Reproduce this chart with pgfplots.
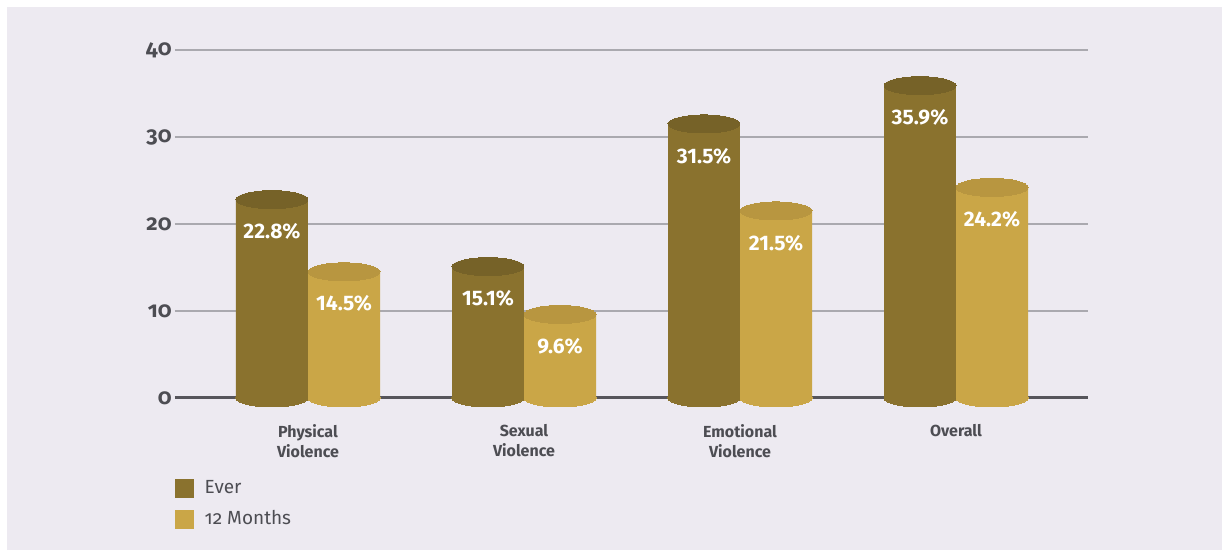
\documentclass[border=0pt]{standalone}
\usepackage{pgfplots}
\usepackage{pgfplotstable}
\pgfplotsset{compat=1.18}
\usepackage{fontspec}
\setmainfont{Fira Sans}[Numbers=OldStyle]
\newfontfamily\lining{Fira Sans}[Numbers=Lining]
\definecolor{bg}{RGB}{237,234,241}
\definecolor{ever}{RGB}{138,114,46}
\definecolor{evertop}{RGB}{118,98,40}
\definecolor{mon}{RGB}{202,166,71}
\definecolor{montop}{RGB}{184,150,64}
\definecolor{txt}{RGB}{77,77,83}
\definecolor{gridc}{RGB}{170,169,175}
\definecolor{zero}{RGB}{86,85,91}

\pgfplotstableread{
x y b
-0.1667 22.8 0
0.8333 15.1 0
1.8333 31.5 0
2.8333 35.9 0
}\evertab
\pgfplotstableread{
x y b
0.1667 14.5 0
1.1667 9.6 0
2.1667 21.5 0
3.1667 24.2 0
}\montab

\pgfplotsset{
  cyl/.style={ybar, bar width=0.3333, bar shift=0pt, fill=#1, draw=none, forget plot},
  ell/.style={only marks, color=#1, mark=*, mark size=18pt, mark options={yscale=0.25, fill=#1, draw=#1, line width=0pt}, forget plot},
  lab/.style={nodes near coords={\lining\pgfmathprintnumber[fixed,fixed zerofill,precision=1]{\pgfplotspointmeta}\%},
    every node near coord/.append style={anchor=center, yshift=-16pt, text=white, font=\fontsize{10.5}{12}\selectfont\bfseries\lining}},
}

\begin{document}
\begin{tikzpicture}
\fill[white] (0,0) rectangle (611pt,-275pt);
\fill[bg] (3.5pt,-3.5pt) rectangle (611pt,-275pt);
\begin{axis}[
  anchor=origin, at={(154pt,-199pt)},
  x=108pt, y=4.35pt,
  xmin=-0.616, xmax=3.611, ymin=0, ymax=40,
  clip=false,
  axis line style={draw=none},
  major tick length=0pt,
  /pgf/number format/assume math mode=true,
  ytick={10,20,30,40},
  extra y ticks={0},
  extra y tick style={grid style={draw=zero, line width=1.5pt}},
  ymajorgrids,
  grid style={draw=gridc, line width=0.75pt},
  xtick={0,1,2,3},
  xticklabels={{Physical\\Violence},{Sexual\\Violence},{Emotional\\Violence},{Overall}},
  xticklabel style={align=center, font=\fontsize{8}{10}\selectfont\bfseries, text=txt, anchor=north, yshift=-9.5pt},
  yticklabel style={font=\fontsize{11}{12}\selectfont\bfseries, text=txt, inner sep=1.5pt},
  legend style={at={(axis cs:-0.616,-8.97)}, anchor=north west, draw=none, fill=none, inner sep=0pt,
    row sep=3pt, font=\fontsize{9.5}{11}\selectfont, text=txt},
  legend cell align=left,
]
\addplot[cyl=ever] table[x=x,y=y]{\evertab};
\addplot[ell=ever] table[x=x,y=b]{\evertab};
\addplot[ell=evertop, lab] table[x=x,y=y]{\evertab};
\addplot[cyl=mon] table[x=x,y=y]{\montab};
\addplot[ell=mon] table[x=x,y=b]{\montab};
\addplot[ell=montop, lab] table[x=x,y=y]{\montab};
\addlegendimage{legend image code/.code={\fill[ever] (0pt,-4.5pt) rectangle (9pt,4.5pt); \path[draw=none,fill=none] (9pt,0pt) rectangle (12.5pt,0.1pt);}}
\addlegendentry{Ever}
\addlegendimage{legend image code/.code={\fill[mon] (0pt,-4.5pt) rectangle (9pt,4.5pt); \path[draw=none,fill=none] (9pt,0pt) rectangle (12.5pt,0.1pt);}}
\addlegendentry{12 Months}
\end{axis}
\pgfresetboundingbox
\useasboundingbox (0,0) rectangle (611pt,-275pt);
\end{tikzpicture}
\end{document}
